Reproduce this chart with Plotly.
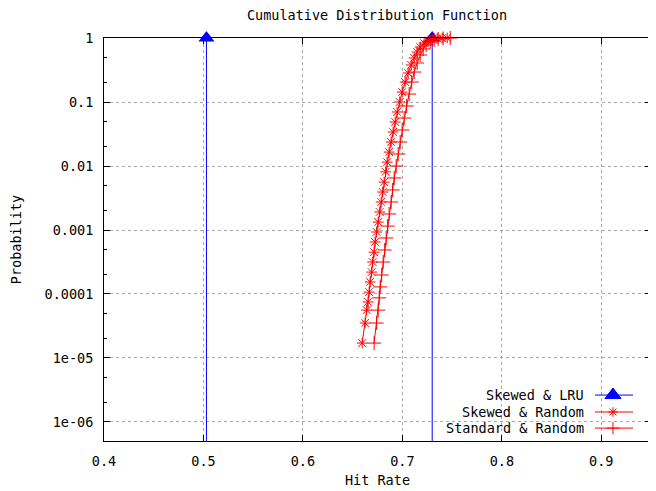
import plotly.graph_objects as go

# ---------------- data ----------------
lru_hit = [0.503, 0.503, None, 0.730, 0.730]
lru_cdf = [1e-9, 1.0, None, 1e-9, 1.0]

skew_rand_hit = [0.6596, 0.6626, 0.6641, 0.6656, 0.6666, 0.6676, 0.6691, 0.6701, 0.6716, 0.6726,
                 0.6741, 0.6757, 0.6772, 0.6787, 0.6802, 0.6817, 0.6832, 0.6847, 0.6867, 0.6887,
                 0.6907, 0.6928, 0.6948, 0.6973, 0.6998, 0.7028, 0.7058, 0.7089, 0.7119, 0.7149,
                 0.7179, 0.7219, 0.7260, 0.7300, 0.7350, 0.7400, 0.7451]
skew_rand_cdf = [1.71e-5, 3.52e-5, 5.6e-5, 7.5e-5, 1.07e-4, 1.54e-4, 2.2e-4, 3.16e-4, 4.5e-4, 6.5e-4,
                 9.3e-4, 1.33e-3, 1.91e-3, 2.74e-3, 3.92e-3, 5.6e-3, 8.1e-3, 1.15e-2, 1.65e-2, 2.37e-2,
                 3.4e-2, 4.87e-2, 6.98e-2, 0.100, 0.143, 0.205, 0.284, 0.379, 0.487, 0.604,
                 0.723, 0.835, 0.898, 0.947, 0.982, 0.996, 1.0]

std_rand_hit = [0.6716, 0.6741, 0.6757, 0.6767, 0.6777, 0.6792, 0.6807, 0.6822, 0.6837, 0.6852,
                0.6867, 0.6887, 0.6902, 0.6918, 0.6938, 0.6958, 0.6978, 0.6998, 0.7018, 0.7043,
                0.7068, 0.7094, 0.7119, 0.7149, 0.7179, 0.7209, 0.7239, 0.7280, 0.7320, 0.7360,
                0.7410, 0.7481]
std_rand_cdf = [1.71e-5, 3.52e-5, 5.6e-5, 8.7e-5, 1.29e-4, 1.98e-4, 3.16e-4, 4.87e-4, 7.5e-4, 1.15e-3,
                1.78e-3, 2.74e-3, 4.22e-3, 6.5e-3, 1.0e-2, 1.54e-2, 2.37e-2, 3.65e-2, 5.62e-2, 8.66e-2,
                0.133, 0.205, 0.294, 0.407, 0.542, 0.673, 0.777, 0.866, 0.931, 0.965,
                0.985, 1.0]

x_ticks = [0.4, 0.5, 0.6, 0.7, 0.8, 0.9]
y_ticks = [1, 0.1, 0.01, 0.001, 0.0001, 1e-5, 1e-6]
y_tick_labels = ["1", "0.1", "0.01", "0.001", "0.0001", "1e-05", "1e-06"]
y_minor = [m * 10.0 ** e for e in range(-7, 0) for m in (2, 5)]

series_names = ["Skewed & LRU", "Skewed & Random", "Standard & Random"]

FONT = "DejaVu Sans Mono"
FS = 13.5
BLUE = "#0000ff"
RED = "#ff0000"

fig = go.Figure()

fig.add_trace(go.Scatter(
    x=lru_hit, y=lru_cdf, mode="lines+markers", name=series_names[0],
    line=dict(color=BLUE, width=1),
    marker=dict(symbol="triangle-up", size=14, color=BLUE),
    cliponaxis=False, showlegend=False))

fig.add_trace(go.Scatter(
    x=skew_rand_hit, y=skew_rand_cdf, mode="lines+markers", name=series_names[1],
    line=dict(color=RED, width=1),
    marker=dict(symbol="asterisk-open", size=9, color=RED, line=dict(color=RED, width=1)),
    cliponaxis=False, showlegend=False))

fig.add_trace(go.Scatter(
    x=std_rand_hit, y=std_rand_cdf, mode="lines+markers", name=series_names[2],
    line=dict(color=RED, width=1),
    marker=dict(symbol="cross-thin-open", size=10, color=RED, line=dict(color=RED, width=1)),
    cliponaxis=False, showlegend=False))

# ---- gnuplot-style legend (text then sample), drawn on an overlay axis ----
legend_rows = [0.114, 0.072, 0.032]
legend_styles = [
    dict(symbol="triangle-up", size=14, color=BLUE, lc=BLUE),
    dict(symbol="asterisk-open", size=8, color=RED, lc=RED),
    dict(symbol="cross-thin-open", size=9, color=RED, lc=RED),
]
for name, yy, st in zip(series_names, legend_rows, legend_styles):
    fig.add_trace(go.Scatter(
        x=[0.8976, 0.9671], y=[yy, yy], mode="lines", xaxis="x2", yaxis="y2",
        line=dict(color=st["lc"], width=1), showlegend=False, hoverinfo="skip"))
    fig.add_trace(go.Scatter(
        x=[0.9305], y=[yy], mode="markers", xaxis="x2", yaxis="y2",
        marker=dict(symbol=st["symbol"], size=st["size"], color=st["color"],
                    line=dict(color=st["color"], width=1)),
        showlegend=False, hoverinfo="skip"))
    fig.add_annotation(x=0.8812, y=yy, xref="paper", yref="paper", text=name,
                       showarrow=False, xanchor="right", yanchor="middle",
                       font=dict(family=FONT, size=FS, color="black"))

axis_common = dict(
    showline=True, linecolor="black", linewidth=1, mirror="allticks",
    ticks="inside", ticklen=6, tickcolor="black", tickwidth=1,
    showgrid=True, gridcolor="#a8a8a8", griddash="dot", gridwidth=1,
    zeroline=False, tickfont=dict(family=FONT, size=FS, color="black"),
    automargin=False,
)

fig.update_layout(
    width=648, height=483,
    margin=dict(l=96, r=5, t=30, b=50, autoexpand=False),
    paper_bgcolor="white", plot_bgcolor="white",
    font=dict(family=FONT, size=FS, color="black"),
    title=dict(text="Cumulative Distribution Function", x=0.5694, xanchor="center",
               y=0.984, yanchor="middle", font=dict(family=FONT, size=FS, color="black")),
    xaxis=dict(range=[0.4, 0.95], tickvals=x_ticks, ticktext=[f"{v:.1f}" for v in x_ticks],
               title=dict(text="Hit Rate", standoff=7, font=dict(family=FONT, size=FS)),
               ticklabelstandoff=8, **axis_common),
    yaxis=dict(type="log", range=[-6.297, 0], tickvals=y_ticks, ticktext=y_tick_labels,
               minor=dict(tickvals=y_minor, ticks="inside", ticklen=3, tickcolor="black",
                          showgrid=False),
               title=dict(text="Probability", standoff=28, font=dict(family=FONT, size=FS)),
               ticklabelstandoff=7, **axis_common),
    xaxis2=dict(overlaying="x", range=[0, 1], visible=False, fixedrange=True),
    yaxis2=dict(overlaying="y", range=[0, 1], visible=False, fixedrange=True),
    showlegend=False,
)

fig.write_html("out.html")
